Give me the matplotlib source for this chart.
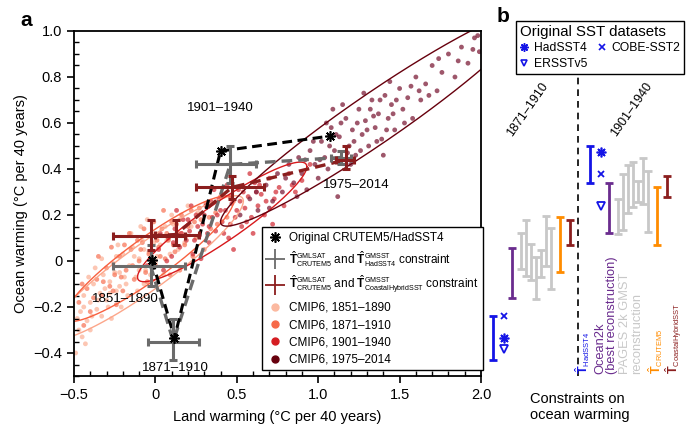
import numpy as np
import matplotlib
matplotlib.use('Agg')
import matplotlib.pyplot as plt
import matplotlib._mathtext as _mt
from matplotlib.lines import Line2D
from matplotlib.ticker import MultipleLocator, FuncFormatter

plt.rcParams['font.family'] = ['Liberation Sans', 'DejaVu Sans']
plt.rcParams['mathtext.fontset'] = 'custom'
plt.rcParams['mathtext.rm'] = 'Liberation Sans'
plt.rcParams['mathtext.it'] = 'Liberation Sans:italic'
plt.rcParams['mathtext.bf'] = 'Liberation Sans:bold'
_mt.SHRINK_FACTOR = 0.6

# ---------------- data: panel a ----------------
periods = ['1851–1890', '1871–1910', '1901–1940', '1975–2014']

orig_land = [-0.02, 0.117, 0.40, 1.07]
orig_ocean = [0.004, -0.335, 0.478, 0.543]

had_land = [-0.03, 0.11, 0.46, 1.14]
had_ocean = [-0.02, -0.35, 0.42, 0.45]
had_xerr_lo = [0.23, 0.155, 0.21, 0.06]
had_xerr_hi = [0.21, 0.16, 0.16, 0.06]
had_yerr_lo = [0.09, 0.08, 0.08, 0.03]
had_yerr_hi = [0.09, 0.10, 0.08, 0.03]

coast_land = [-0.025, 0.125, 0.47, 1.17]
coast_ocean = [0.11, 0.115, 0.32, 0.44]
coast_xerr_lo = [0.235, 0.125, 0.22, 0.06]
coast_xerr_hi = [0.205, 0.14, 0.20, 0.05]
coast_yerr_lo = [0.06, 0.045, 0.05, 0.04]
coast_yerr_hi = [0.07, 0.065, 0.05, 0.06]

# CMIP6 ensemble members (land, ocean)
cmip_1851 = [(-0.49,-0.40),(-0.47,-0.30),(-0.46,-0.22),(-0.44,-0.15),(-0.42,-0.26),(-0.40,-0.18),
             (-0.38,-0.10),(-0.36,-0.21),(-0.34,-0.14),(-0.32,-0.06),(-0.30,-0.17),(-0.28,-0.09),
             (-0.26,-0.01),(-0.24,-0.13),(-0.22,-0.05),(-0.20,0.03),(-0.18,-0.10),(-0.16,-0.02),
             (-0.14,0.06),(-0.12,-0.07),(-0.10,0.01),(-0.08,0.09),(-0.06,-0.04),(-0.04,0.04),
             (-0.02,0.12),(0.00,-0.01),(0.03,0.07),(0.06,0.15),(0.09,0.03),(0.12,0.11),(0.15,0.18),
             (0.18,0.08),(0.22,0.15),(0.26,0.21),(-0.45,-0.33),(-0.33,0.01),(-0.21,-0.20),
             (-0.09,0.15),(0.05,-0.06),(-0.27,-0.25),(-0.15,0.12),(-0.37,-0.03),(-0.43,-0.36),
             (0.20,0.24),(-0.05,0.18),(-0.31,-0.12),(-0.19,-0.07),(-0.11,-0.13),(0.01,0.02),
             (-0.23,0.07),(-0.41,-0.07),(0.10,0.20),(-0.07,-0.10),(-0.29,-0.20),(0.14,0.05),
             (-0.48,-0.25),(-0.44,-0.20),(-0.39,-0.24),(-0.35,-0.17),(-0.33,-0.24),(-0.28,-0.14),
             (-0.25,-0.05),(-0.22,-0.11),(-0.17,-0.15),(-0.13,0.02),(-0.10,-0.04),(-0.07,0.05),
             (-0.03,-0.06),(-0.01,0.08),(0.02,0.11),(0.07,0.09),(0.11,0.16),(-0.24,0.02),
             (-0.40,-0.30),(0.16,0.12)]
cmip_1871 = [(-0.47,-0.18),(-0.42,-0.12),(-0.40,-0.22),(-0.36,-0.08),(-0.33,-0.15),(-0.30,-0.03),
             (-0.28,-0.11),(-0.25,-0.06),(-0.22,0.02),(-0.20,-0.13),(-0.18,-0.04),(-0.15,0.05),
             (-0.13,-0.08),(-0.10,0.00),(-0.08,0.08),(-0.06,-0.05),(-0.04,0.03),(-0.02,0.11),
             (0.00,-0.02),(0.02,0.06),(0.04,0.14),(0.06,0.01),(0.08,0.09),(0.10,0.17),(0.12,0.04),
             (0.14,0.12),(0.16,0.20),(0.18,0.07),(0.20,0.15),(0.22,0.22),(0.25,0.10),(0.28,0.18),
             (0.31,0.25),(0.34,0.14),(0.37,0.21),(0.40,0.28),(0.44,0.19),(0.48,0.26),(-0.35,0.02),
             (-0.16,0.12),(0.05,0.22),(-0.24,-0.19),(0.15,-0.04),(-0.44,-0.28),(0.30,0.05),
             (-0.11,0.09),(0.09,-0.06),(-0.27,0.06),(0.23,0.02),(-0.01,0.17),
             (-0.45,-0.10),(-0.38,-0.16),(-0.32,-0.09),(-0.26,-0.13),(-0.21,-0.07),(-0.14,-0.02),
             (-0.09,0.05),(-0.05,-0.09),(0.01,0.09),(0.03,0.02),(0.07,0.12),(0.11,0.07),(0.13,0.16),
             (0.19,0.11),(0.24,0.17),(0.27,0.23),(0.33,0.19),(0.38,0.16),(-0.19,0.07),(-0.07,0.14)]
cmip_1901 = [(-0.05,-0.02),(0.02,0.05),(0.05,-0.04),(0.08,0.10),(0.10,0.02),(0.12,0.14),(0.15,0.06),
             (0.17,0.18),(0.19,0.09),(0.21,0.13),(0.23,0.03),(0.25,0.20),(0.27,0.11),(0.29,0.16),
             (0.31,0.24),(0.33,0.08),(0.35,0.19),(0.37,0.13),(0.39,0.27),(0.41,0.17),(0.43,0.22),
             (0.45,0.10),(0.47,0.25),(0.49,0.19),(0.51,0.31),(0.53,0.15),(0.55,0.23),(0.57,0.28),
             (0.59,0.19),(0.61,0.34),(0.63,0.24),(0.65,0.29),(0.67,0.20),(0.70,0.36),(0.73,0.27),
             (0.76,0.32),(0.79,0.24),(0.82,0.38),(0.86,0.30),(0.90,0.35),(0.36,0.31),(0.48,0.05),
             (0.22,0.24),(0.60,0.12),(0.44,0.33),(0.28,0.01),(0.13,0.22),(0.72,0.16),(0.95,0.42),
             (0.58,0.38),(0.40,0.22),(0.52,0.26),(0.33,0.15),(0.46,0.16),(0.62,0.30),
             (0.03,0.12),(0.07,0.00),(0.11,0.08),(0.16,0.12),(0.20,0.18),(0.24,0.09),(0.26,0.15),
             (0.30,0.20),(0.32,0.12),(0.34,0.26),(0.38,0.20),(0.42,0.12),(0.46,0.28),(0.50,0.22),
             (0.54,0.30),(0.56,0.17),(0.64,0.33),(0.68,0.26),(0.74,0.30),(0.84,0.33)]
cmip_1975 = [(0.52,0.20),(0.58,0.27),(0.63,0.22),(0.68,0.33),(0.72,0.26),(0.75,0.38),(0.78,0.30),
             (0.82,0.42),(0.85,0.34),(0.88,0.45),(0.90,0.38),(0.93,0.31),(0.95,0.48),(0.98,0.42),
             (1.00,0.36),(1.02,0.52),(1.04,0.45),(1.06,0.40),(1.08,0.58),(1.10,0.48),(1.12,0.28),
             (1.13,0.54),(1.15,0.44),(1.17,0.62),(1.19,0.50),(1.21,0.57),(1.23,0.46),(1.25,0.66),
             (1.27,0.55),(1.29,0.61),(1.31,0.50),(1.33,0.70),(1.35,0.58),(1.37,0.64),(1.39,0.53),
             (1.41,0.72),(1.43,0.62),(1.45,0.68),(1.47,0.57),(1.50,0.75),(1.52,0.66),(1.55,0.71),
             (1.58,0.62),(1.60,0.80),(1.63,0.70),(1.66,0.77),(1.70,0.85),(1.73,0.74),(1.76,0.82),
             (1.80,0.90),(1.84,0.80),(1.88,0.93),(1.92,0.86),(1.96,0.97),(1.99,0.91),(1.15,0.68),
             (1.28,0.73),(1.05,0.60),(1.40,0.46),(0.97,0.52),(1.22,0.52),(1.34,0.63),(1.46,0.64),
             (1.11,0.55),(1.57,0.76),(1.68,0.72),(1.86,0.87),(1.44,0.78),(1.30,0.57),(1.18,0.47),
             (0.62,0.30),(0.70,0.23),(0.80,0.36),(0.87,0.28),(0.92,0.44),(1.01,0.44),(1.07,0.50),
             (1.14,0.60),(1.20,0.42),(1.24,0.60),(1.26,0.48),(1.32,0.66),(1.36,0.52),(1.38,0.70),
             (1.42,0.57),(1.48,0.70),(1.53,0.60),(1.62,0.74),(1.74,0.88),(1.95,0.92),(1.98,0.98),
             (1.09,0.66)]
cmip_sets = [cmip_1851, cmip_1871, cmip_1901, cmip_1975]

# 95% regions of the CMIP6 clouds: centre, semi-axis vector, vertical half-thickness
ell_center = [(-0.06, -0.03), (-0.04, 0.01), (0.41, 0.17), (1.35, 0.62)]
ell_axis = [(0.60, 0.29), (0.52, 0.25), (0.52, 0.24), (0.95, 0.45)]
ell_thick = [0.12, 0.11, 0.10, 0.13]

# ---------------- data: panel b ----------------
sst_lo = [-0.43, 0.34]
sst_hi = [-0.24, 0.50]
hadsst4_val = [-0.335, 0.474]
cobe_val = [-0.24, 0.38]
ersst_val = [-0.383, 0.24]
ocean2k_lo = [-0.16, 0.12]
ocean2k_hi = [0.057, 0.34]
pages_lo = [[-0.035, -0.065, -0.083, -0.165, -0.07, -0.022, -0.122],
            [0.117, 0.135, 0.21, 0.236, 0.258, 0.25, 0.127]]
pages_hi = [[0.12, 0.18, 0.074, 0.017, 0.048, 0.196, 0.143],
            [0.27, 0.38, 0.417, 0.43, 0.35, 0.45, 0.39]]
crutem_lo = [-0.048, 0.07]
crutem_hi = [0.19, 0.32]
coastal_lo = [0.07, 0.28]
coastal_hi = [0.18, 0.37]

# ---------------- styles ----------------
fill_cols = ['#FCB49A', '#F7795C', '#D3343D', '#7E1F3A']
leg_cols = ['#FBB9A0', '#F66A4A', '#D51D22', '#67000D']
ell_cols = ['#FCA68A', '#F8603F', '#D7191C', '#67000D']
gray = '#6B6B6B'
dred = '#8B1E1E'
blue = '#1414E6'
purple = '#6A2C8E'
lgray = '#C8C8C8'
orange = '#FF8C00'

fig = plt.figure(figsize=(6.87, 4.38), dpi=100)
W, H = 687.0, 438.0
ax = fig.add_axes([74 / W, 62 / H, 407 / W, 345 / H])

for pts, c in zip(cmip_sets, fill_cols):
    arr = np.array(pts)
    ax.scatter(arr[:, 0], arr[:, 1], s=12, color=c, alpha=0.75, edgecolors='none', zorder=1)

t = np.linspace(0, 2 * np.pi, 300)
for (cx, cy), (axx, axy), h, c in zip(ell_center, ell_axis, ell_thick, ell_cols):
    ax.plot(cx + axx * np.cos(t), cy + axy * np.cos(t) + h * np.sin(t), color=c, lw=1.0, zorder=2)

ax.plot(had_land, had_ocean, color=gray, lw=2.4, dashes=(3.2, 1.8), zorder=3)
ax.plot(coast_land, coast_ocean, color=dred, lw=2.4, dashes=(3.2, 1.8), zorder=3)
ax.plot(orig_land, orig_ocean, color='k', lw=2.2, dashes=(3.2, 1.8), zorder=4)

ax.errorbar(had_land, had_ocean, xerr=[had_xerr_lo, had_xerr_hi], yerr=[had_yerr_lo, had_yerr_hi],
            fmt='none', ecolor=gray, elinewidth=2.2, capsize=3, capthick=2.2, zorder=5)
ax.errorbar(coast_land, coast_ocean, xerr=[coast_xerr_lo, coast_xerr_hi],
            yerr=[coast_yerr_lo, coast_yerr_hi],
            fmt='none', ecolor=dred, elinewidth=2.2, capsize=3, capthick=2.2, zorder=5)
ax.plot(orig_land, orig_ocean, ls='none', marker=(8, 2, 0), ms=7.5, mew=1.2, color='k', zorder=6)

label_pos = [(-0.185, -0.165), (0.123, -0.465), (0.40, 0.665), (1.235, 0.33)]
for (lx, ly), p in zip(label_pos, periods):
    ax.text(lx, ly, p, ha='center', va='center', fontsize=9.5, zorder=7)

ax.set_xlim(-0.5, 2.0)
ax.set_ylim(-0.5, 1.0)
ax.set_xticks([-0.5, 0, 0.5, 1.0, 1.5, 2.0])
ax.set_yticks([-0.4, -0.2, 0, 0.2, 0.4, 0.6, 0.8, 1.0])
ax.xaxis.set_minor_locator(MultipleLocator(0.1))
ax.yaxis.set_minor_locator(MultipleLocator(0.05))


def fmt(v, pos):
    if abs(v) < 1e-9:
        return '0'
    return f'{v:.1f}'.replace('-', '\u2212')


ax.xaxis.set_major_formatter(FuncFormatter(fmt))
ax.yaxis.set_major_formatter(FuncFormatter(fmt))
ax.tick_params(which='major', direction='out', length=5, width=1.2, labelsize=10.5)
ax.tick_params(which='minor', direction='in', length=3.5, width=1.0)
for s in ax.spines.values():
    s.set_linewidth(1.3)
ax.set_xlabel('Land warming (°C per 40 years)', fontsize=10.5, labelpad=6)
ax.set_ylabel('Ocean warming (°C per 40 years)', fontsize=10.5, labelpad=4)

handles = [
    Line2D([], [], ls='none', marker=(8, 2, 0), ms=7.5, mew=1.2, color='k'),
    Line2D([], [], ls='none', marker='+', ms=15, mew=1.3, color=gray),
    Line2D([], [], ls='none', marker='+', ms=15, mew=1.3, color=dred),
] + [Line2D([], [], ls='none', marker='o', ms=5, color=c) for c in leg_cols]
labels = [
    'Original CRUTEM5/HadSST4',
    r'$\hat{\mathbf{T}}^{\rm GMLSAT}_{\rm CRUTEM5}$ and $\hat{\mathbf{T}}^{\rm GMSST}_{\rm HadSST4}$ constraint',
    r'$\hat{\mathbf{T}}^{\rm GMLSAT}_{\rm CRUTEM5}$ and $\hat{\mathbf{T}}^{\rm GMSST}_{\rm CoastalHybridSST}$ constraint',
] + ['CMIP6, ' + p for p in periods]
leg = ax.legend(handles, labels, loc='upper left', bbox_to_anchor=(262 / W, 1 - 227 / H),
                bbox_transform=fig.transFigure, fontsize=8.5, frameon=True, fancybox=False,
                edgecolor='k', framealpha=1, handlelength=1.4, handletextpad=0.5,
                labelspacing=0.45, borderpad=0.4, borderaxespad=0)
leg.get_frame().set_linewidth(1.0)
leg.set_zorder(10)

# ---------------- panel b ----------------
axb = fig.add_axes([487 / W, 62 / H, 200 / W, 345 / H])
axb.set_xlim(0, 200)
axb.set_ylim(-0.5, 1.0)
axb.axis('off')

group_x = [6, 103]
off_marker = 11
off_ocean2k = 18.5
off_pages = [28, 33, 38, 43, 48, 53, 58]
off_crutem = 67
off_coastal = 77
ebkw = dict(fmt='none', elinewidth=2.0, capsize=2.8, capthick=2.0)


def vbar(x, lo, hi, c):
    axb.errorbar([x], [(lo + hi) / 2], yerr=[[(hi - lo) / 2], [(hi - lo) / 2]], ecolor=c, **ebkw)


for g, gx in enumerate(group_x):
    vbar(gx, sst_lo[g], sst_hi[g], blue)
    axb.plot(gx + off_marker, hadsst4_val[g], marker=(8, 2, 0), ms=7, mew=1.2, color=blue, ls='none')
    axb.plot(gx + off_marker, cobe_val[g], marker='x', ms=5, mew=1.3, color=blue, ls='none')
    axb.plot(gx + off_marker, ersst_val[g], marker='v', ms=6, mew=1.3, mfc='none', mec=blue, ls='none')
    vbar(gx + off_ocean2k, ocean2k_lo[g], ocean2k_hi[g], purple)
    for k, o in enumerate(off_pages):
        vbar(gx + o, pages_lo[g][k], pages_hi[g][k], lgray)
    vbar(gx + off_crutem, crutem_lo[g], crutem_hi[g], orange)
    vbar(gx + off_coastal, coastal_lo[g], coastal_hi[g], dred)

axb.axvline(91, color='k', lw=1.2, ls=(0, (4, 3)), zorder=0)
axb.text(41, 0.66, '1871–1910', rotation=55, ha='center', va='center', fontsize=9)
axb.text(145, 0.66, '1901–1940', rotation=55, ha='center', va='center', fontsize=9)

ybase = -0.49
axb.text(96, ybase, r'$\hat{\mathbf{T}}_{\rm HadSST4}$', color=blue, rotation=90,
         ha='center', va='bottom', fontsize=9)
axb.text(119, ybase, 'Ocean2k\n(best reconstruction)', color=purple, rotation=90,
         ha='center', va='bottom', fontsize=9.3, multialignment='left', linespacing=0.95)
axb.text(144, ybase, 'PAGES 2k GMST\nreconstruction', color=lgray, rotation=90,
         ha='center', va='bottom', fontsize=9.3, multialignment='left', linespacing=0.95)
axb.text(168.5, ybase, r'$\hat{\mathbf{T}}_{\rm CRUTEM5}$', color=orange, rotation=90,
         ha='center', va='bottom', fontsize=9)
axb.text(186.5, ybase, r'$\hat{\mathbf{T}}_{\rm CoastalHybridSST}$', color=dred, rotation=90,
         ha='center', va='bottom', fontsize=9)

hb = [Line2D([], [], ls='none', marker=(8, 2, 0), ms=6, mew=1.1, color=blue),
      Line2D([], [], ls='none', marker='v', ms=5, mew=1.2, mfc='none', mec=blue),
      Line2D([], [], ls='none', marker='x', ms=4.5, mew=1.2, color=blue)]
legb = fig.legend(hb, ['HadSST4', 'ERSSTv5', 'COBE-SST2'], ncol=2, loc='upper left',
                  bbox_to_anchor=(516 / W, 1 - 21 / H), fontsize=8.7, title='Original SST datasets',
                  title_fontsize=10.8, frameon=True, fancybox=False, edgecolor='k', framealpha=1,
                  handlelength=0.8, handletextpad=0.4, columnspacing=0.8, labelspacing=0.3,
                  borderpad=0.3, borderaxespad=0)
legb._legend_box.align = 'left'
legb.get_frame().set_linewidth(1.0)

fig.text(530 / W, 1 - 392 / H, 'Constraints on\nocean warming', ha='left', va='top', fontsize=10.5)
fig.text(20 / W, 1 - 20 / H, 'a', fontsize=15, fontweight='bold', ha='left', va='center')
fig.text(497 / W, 1 - 16 / H, 'b', fontsize=15, fontweight='bold', ha='left', va='center')

fig.savefig('out.png', dpi=100)
